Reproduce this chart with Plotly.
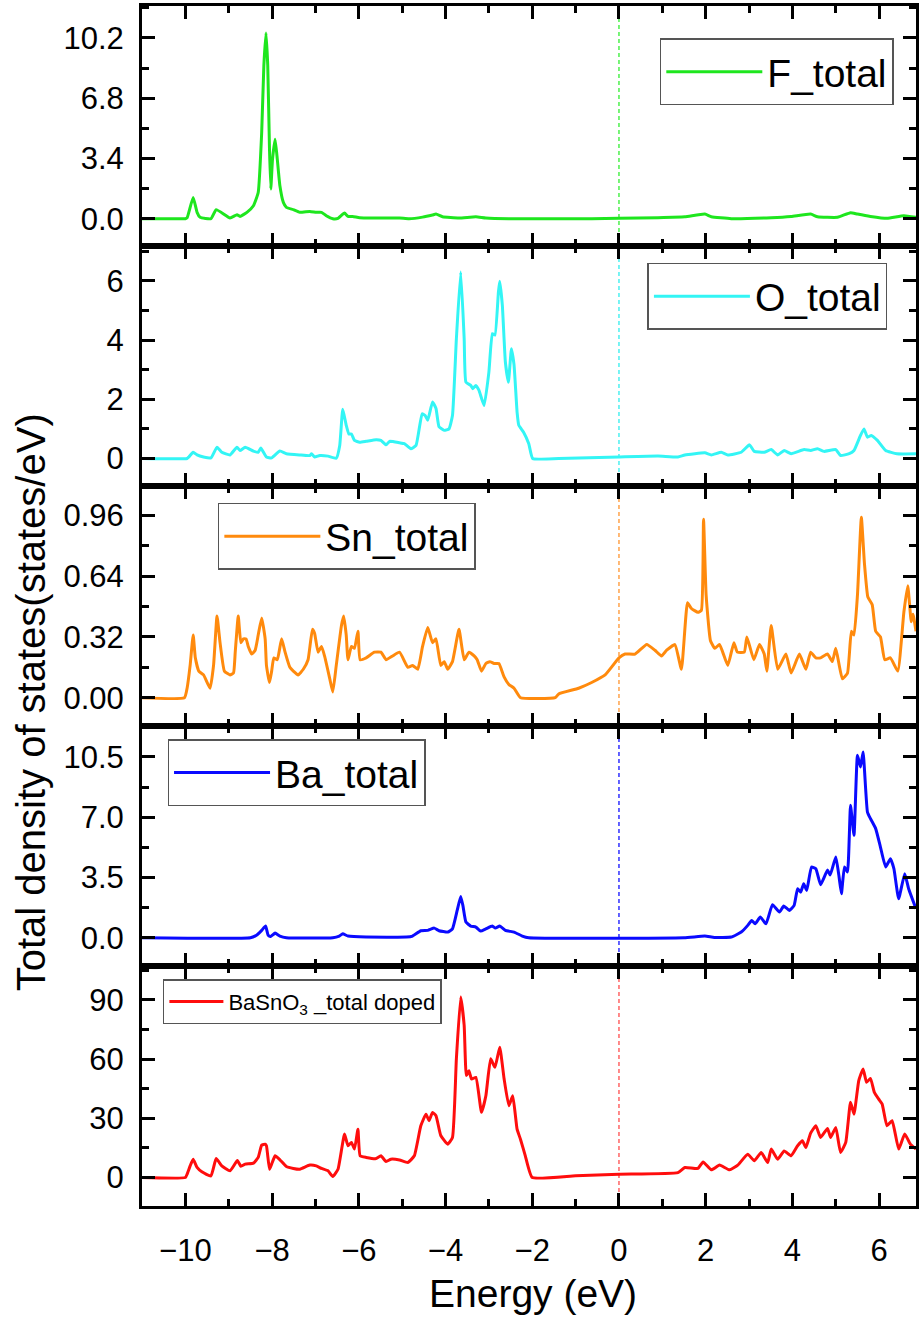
import plotly.graph_objects as go
from plotly.subplots import make_subplots

# ---- projected / total density of states (states/eV) vs energy (eV) ----
f_energy = [-11.0, -10.69, -10.0, -9.96, -9.82, -9.73, -9.66, -9.41, -9.29, -8.97,
            -8.81, -8.74, -8.58, -8.43, -8.32, -8.24, -8.19, -8.14, -8.10, -8.06,
            -8.03, -7.99, -7.93, -7.88, -7.82, -7.74, -7.67, -7.51, -7.36, -7.13,
            -6.98, -6.86, -6.75, -6.60, -6.48, -6.33, -6.25, -6.14, -5.98, -5.45,
            -5.06, -4.84, -4.53, -4.30, -4.22, -4.07, -3.69, -3.30, -3.07, -2.54,
            -2.16, -0.63, 0.0, 0.90, 1.52, 1.98, 2.13, 2.59, 3.51, 3.97,
            4.42, 4.58, 5.04, 5.34, 5.50, 5.80, 6.18, 6.57, 6.85]
f_dos = [0, 0, 0, 0.05, 1.20, 0.36, 0.08, 0.0, 0.51, 0.04,
         0.23, 0.13, 0.36, 0.73, 1.48, 4.86, 8.63, 10.48, 8.63, 3.94,
         1.67, 3.36, 4.48, 3.36, 1.86, 0.92, 0.64, 0.51, 0.36, 0.41,
         0.36, 0.36, 0.17, 0.0, 0.02, 0.32, 0.13, 0.13, 0.06, 0.04,
         0.04, 0.0, 0.09, 0.21, 0.26, 0.11, 0.04, 0.11, 0.04, 0.0,
         0.0, 0.0, 0.02, 0.06, 0.11, 0.26, 0.11, 0.0, 0.06, 0.13,
         0.26, 0.11, 0.08, 0.34, 0.26, 0.13, 0.02, 0.17, 0.08]

o_energy = [-11.0, -9.96, -9.92, -9.82, -9.73, -9.58, -9.41, -9.27, -9.16, -8.97,
            -8.81, -8.74, -8.62, -8.43, -8.32, -8.26, -8.13, -8.01, -7.82, -7.67,
            -7.36, -7.13, -7.09, -7.02, -6.90, -6.71, -6.52, -6.44, -6.37, -6.29,
            -6.23, -6.17, -6.10, -5.98, -5.83, -5.60, -5.49, -5.37, -5.29, -5.06,
            -4.95, -4.80, -4.68, -4.54, -4.47, -4.41, -4.30, -4.22, -4.15, -4.03,
            -3.92, -3.84, -3.75, -3.65, -3.57, -3.53, -3.42, -3.37, -3.30, -3.23,
            -3.11, -3.00, -2.92, -2.86, -2.78, -2.75, -2.69, -2.62, -2.55, -2.48,
            -2.42, -2.35, -2.31, -2.20, -2.08, -1.99, -1.39, 0.0, 0.90, 1.36,
            1.52, 1.98, 2.13, 2.36, 2.51, 2.82, 3.01, 3.12, 3.35, 3.51,
            3.66, 3.81, 3.97, 4.27, 4.42, 4.58, 4.73, 5.00, 5.11, 5.31,
            5.42, 5.57, 5.65, 5.73, 5.82, 5.96, 6.15, 6.41, 6.85]
o_dos = [0, 0, 0.05, 0.21, 0.12, 0.05, 0.02, 0.38, 0.21, 0.12,
         0.38, 0.27, 0.38, 0.25, 0.21, 0.35, 0.05, 0.02, 0.25, 0.16,
         0.12, 0.10, 0.16, 0.05, 0.10, 0.08, 0.01, 0.44, 1.66, 1.12,
         0.83, 0.83, 0.61, 0.55, 0.58, 0.63, 0.61, 0.46, 0.58, 0.53,
         0.50, 0.33, 0.44, 1.51, 1.45, 1.29, 1.91, 1.69, 1.07, 0.95,
         1.00, 1.45, 4.04, 6.30, 4.05, 2.58, 2.47, 2.36, 2.47, 2.31,
         1.79, 2.92, 4.22, 4.17, 5.63, 5.99, 5.18, 3.26, 2.58, 3.71,
         3.16, 1.57, 1.12, 0.89, 0.50, 0.0, 0.0, 0.05, 0.08, 0.05,
         0.12, 0.19, 0.12, 0.21, 0.12, 0.21, 0.46, 0.24, 0.21, 0.30,
         0.12, 0.27, 0.16, 0.30, 0.27, 0.33, 0.24, 0.30, 0.10, 0.16,
         0.27, 0.78, 1.00, 0.72, 0.78, 0.61, 0.27, 0.16, 0.16]

sn_energy = [-11.0, -10.02, -9.96, -9.89, -9.82, -9.77, -9.69, -9.58, -9.43, -9.35,
             -9.27, -9.20, -9.10, -8.97, -8.89, -8.85, -8.78, -8.72, -8.66, -8.60,
             -8.55, -8.47, -8.39, -8.32, -8.24, -8.16, -8.13, -8.06, -8.01, -7.96,
             -7.88, -7.78, -7.70, -7.59, -7.51, -7.40, -7.28, -7.17, -7.07, -7.02,
             -6.94, -6.86, -6.79, -6.67, -6.60, -6.52, -6.40, -6.35, -6.29, -6.25,
             -6.17, -6.10, -6.02, -5.97, -5.83, -5.64, -5.49, -5.37, -5.22, -5.06,
             -4.87, -4.76, -4.64, -4.53, -4.41, -4.30, -4.22, -4.11, -4.03, -3.95,
             -3.84, -3.69, -3.57, -3.46, -3.34, -3.27, -3.17, -3.07, -2.98, -2.88,
             -2.77, -2.65, -2.54, -2.42, -2.27, -1.47, -1.39, -0.93, -0.63, -0.32,
             0.0, 0.14, 0.37, 0.64, 0.83, 0.98, 1.10, 1.29, 1.44, 1.58,
             1.67, 1.82, 1.90, 1.95, 2.01, 2.11, 2.21, 2.32, 2.51, 2.65,
             2.73, 2.89, 2.95, 3.11, 3.24, 3.35, 3.41, 3.51, 3.66, 3.85,
             3.97, 4.16, 4.31, 4.42, 4.54, 4.65, 4.81, 4.92, 5.00, 5.15,
             5.27, 5.36, 5.42, 5.50, 5.59, 5.66, 5.74, 5.84, 5.92, 6.03,
             6.13, 6.26, 6.43, 6.57, 6.66, 6.74, 6.78, 6.85]
sn_dos = [0, 0, 0.05, 0.17, 0.33, 0.21, 0.14, 0.12, 0.05, 0.17,
          0.43, 0.29, 0.14, 0.12, 0.13, 0.24, 0.43, 0.29, 0.31, 0.31,
          0.27, 0.23, 0.25, 0.33, 0.42, 0.31, 0.17, 0.08, 0.14, 0.21,
          0.20, 0.31, 0.24, 0.16, 0.14, 0.12, 0.15, 0.20, 0.36, 0.34,
          0.24, 0.27, 0.22, 0.10, 0.03, 0.17, 0.38, 0.43, 0.33, 0.20,
          0.27, 0.26, 0.35, 0.20, 0.21, 0.24, 0.24, 0.20, 0.22, 0.24,
          0.16, 0.17, 0.15, 0.27, 0.37, 0.29, 0.31, 0.17, 0.19, 0.15,
          0.19, 0.36, 0.20, 0.24, 0.22, 0.20, 0.14, 0.18, 0.19, 0.18,
          0.18, 0.11, 0.07, 0.05, 0.0, 0.0, 0.02, 0.05, 0.08, 0.12,
          0.21, 0.23, 0.23, 0.28, 0.25, 0.22, 0.25, 0.28, 0.15, 0.50,
          0.47, 0.45, 0.46, 0.94, 0.54, 0.30, 0.26, 0.28, 0.17, 0.29,
          0.24, 0.24, 0.32, 0.20, 0.28, 0.23, 0.14, 0.38, 0.15, 0.23,
          0.13, 0.23, 0.15, 0.24, 0.21, 0.21, 0.23, 0.19, 0.26, 0.10,
          0.13, 0.35, 0.33, 0.54, 0.95, 0.71, 0.53, 0.49, 0.35, 0.32,
          0.20, 0.21, 0.14, 0.45, 0.59, 0.40, 0.44, 0.35]

ba_energy = [-11.0, -8.50, -8.36, -8.24, -8.15, -8.09, -8.03, -7.93, -7.82, -7.67,
             -6.60, -6.45, -6.37, -6.25, -5.83, -4.90, -4.76, -4.57, -4.41, -4.26,
             -4.15, -3.95, -3.84, -3.73, -3.65, -3.60, -3.53, -3.42, -3.30, -3.19,
             -3.07, -2.92, -2.85, -2.75, -2.62, -2.42, -2.23, -2.08, 1.50, 1.98,
             2.20, 2.59, 2.82, 2.97, 3.06, 3.14, 3.26, 3.39, 3.54, 3.70,
             3.80, 3.93, 4.04, 4.12, 4.19, 4.26, 4.33, 4.44, 4.54, 4.65,
             4.81, 4.87, 5.00, 5.07, 5.13, 5.20, 5.27, 5.34, 5.42, 5.50,
             5.57, 5.63, 5.73, 5.80, 5.92, 6.03, 6.15, 6.26, 6.34, 6.45,
             6.59, 6.68, 6.85]
ba_dos = [0, 0, 0.14, 0.43, 0.68, 0.14, 0.08, 0.27, 0.10, 0.0,
          0.0, 0.10, 0.23, 0.10, 0.04, 0.04, 0.10, 0.41, 0.43, 0.56,
          0.41, 0.33, 0.52, 1.60, 2.40, 1.88, 0.91, 0.68, 0.62, 0.39,
          0.52, 0.68, 0.56, 0.68, 0.43, 0.33, 0.10, 0.0, 0.0, 0.10,
          0.02, 0.04, 0.33, 0.72, 1.01, 0.81, 1.20, 0.81, 1.92, 1.49,
          1.84, 1.59, 1.88, 2.85, 2.65, 3.14, 2.75, 4.11, 4.01, 3.08,
          3.93, 3.64, 4.69, 3.64, 2.56, 4.11, 3.82, 7.69, 5.95, 10.60,
          9.92, 10.79, 7.30, 6.92, 6.34, 5.27, 4.11, 4.59, 4.01, 2.27,
          3.72, 2.85, 1.69]

tot_energy = [-11.0, -10.0, -9.96, -9.89, -9.82, -9.73, -9.62, -9.41, -9.29, -9.16,
              -8.97, -8.80, -8.72, -8.62, -8.43, -8.32, -8.24, -8.16, -8.13, -8.06,
              -8.01, -7.93, -7.82, -7.67, -7.51, -7.36, -7.13, -6.98, -6.86, -6.71,
              -6.60, -6.48, -6.33, -6.25, -6.17, -6.10, -6.02, -5.97, -5.83, -5.60,
              -5.49, -5.37, -5.26, -5.06, -4.87, -4.72, -4.57, -4.45, -4.38, -4.30,
              -4.22, -4.11, -3.95, -3.84, -3.75, -3.65, -3.57, -3.52, -3.46, -3.40,
              -3.30, -3.17, -3.07, -2.96, -2.86, -2.75, -2.65, -2.54, -2.45, -2.35,
              -2.27, -2.16, -2.00, -1.00, 0.0, 1.36, 1.52, 1.82, 1.94, 2.13,
              2.32, 2.55, 2.74, 2.97, 3.12, 3.28, 3.43, 3.51, 3.66, 3.81,
              3.97, 4.12, 4.23, 4.31, 4.42, 4.54, 4.65, 4.81, 4.88, 5.00,
              5.11, 5.23, 5.34, 5.42, 5.53, 5.63, 5.71, 5.80, 5.89, 5.99,
              6.07, 6.18, 6.30, 6.45, 6.59, 6.72, 6.85]
tot_dos = [0, 0, 1.7, 5.9, 9.3, 5.1, 2.9, 0.8, 9.6, 5.9,
           3.4, 8.6, 5.7, 6.8, 7.3, 10.2, 16.4, 16.9, 16.1, 4.2,
           6.8, 11.0, 9.0, 5.6, 4.6, 4.2, 6.3, 5.9, 4.6, 3.4,
           0.5, 4.2, 22.0, 16.1, 17.8, 14.4, 24.5, 11.0, 10.2, 9.6,
           11.0, 8.1, 9.3, 8.9, 7.6, 11.0, 26.2, 32.1, 28.8, 33.0,
           31.3, 21.3, 16.9, 20.3, 60.1, 91.4, 77.0, 51.6, 54.1, 49.9,
           50.7, 33.0, 41.4, 60.1, 55.8, 66.0, 50.1, 36.4, 41.4, 24.5,
           19.3, 11.0, 0.0, 0.9, 1.7, 2.5, 5.1, 4.6, 7.9, 3.9,
           6.3, 3.9, 6.3, 11.8, 8.5, 12.7, 7.6, 14.4, 9.3, 13.5,
           11.0, 16.1, 18.6, 15.2, 22.5, 26.2, 20.3, 24.9, 20.3, 25.4,
           12.7, 17.8, 38.1, 32.1, 49.1, 55.0, 48.2, 50.2, 43.1, 39.7,
           37.2, 26.2, 28.8, 14.4, 22.0, 16.9, 14.4]

names = ["F_total", "O_total", "Sn_total", "Ba_total", "BaSnO<sub>3</sub> _total doped"]
energies = [f_energy, o_energy, sn_energy, ba_energy, tot_energy]
values = [f_dos, o_dos, sn_dos, ba_dos, tot_dos]
line_colors = ["#1ee61e", "#33f5f5", "#ff8a0d", "#0a0aff", "#ff0d0d"]
fermi_colors = ["#4cf04c", "#4cf0f0", "#ffa24a", "#3030ff", "#ff6464"]

y_ranges = [[-1.54, 12.0], [-0.93, 7.18], [-0.149, 1.115], [-1.64, 12.3], [-14.4, 107.1]]
y_ticks = [[0, 3.4, 6.8, 10.2], [0, 2, 4, 6], [0, 0.32, 0.64, 0.96], [0, 3.5, 7.0, 10.5], [0, 30, 60, 90]]
y_minor = [1.7, 1.0, 0.16, 1.75, 15]
y_formats = [".1f", "d", ".2f", ".1f", "d"]

legend_pos = [(0.669, 0.973), (0.653, 0.786), (0.098, 0.586), (0.033, 0.389), (0.027, 0.189)]
legend_fonts = [39, 39, 39, 39, 22]
legend_itemwidths = [96, 96, 96, 96, 54]

FONT = "Liberation Sans, Arial, sans-serif"

fig = make_subplots(rows=5, cols=1, shared_xaxes=True, vertical_spacing=0)

for i in range(5):
    leg = "legend" if i == 0 else f"legend{i + 1}"
    fig.add_trace(
        go.Scatter(x=energies[i], y=values[i], mode="lines", name=names[i],
                   line=dict(color=line_colors[i], width=3, shape="spline", smoothing=0.4),
                   legend=leg, showlegend=True),
        row=i + 1, col=1)
    # Fermi level marker
    fig.add_shape(type="line", x0=0, x1=0, y0=0, y1=1,
                  xref=f"x{i + 1}" if i else "x", yref=(f"y{i + 1} domain" if i else "y domain"),
                  line=dict(color=fermi_colors[i], width=1.5, dash="4px,3px"), layer="below")

axis_common = dict(
    showline=True, linecolor="black", linewidth=3, mirror="allticks",
    ticks="inside", ticklen=13, tickwidth=2.5, tickcolor="black",
    showgrid=False, zeroline=False,
    tickfont=dict(family=FONT, size=31, color="black"),
)

for i in range(5):
    fig.update_xaxes(
        range=[-11.0, 6.85], tick0=0, dtick=2,
        minor=dict(dtick=1, tick0=0, ticks="inside", ticklen=7, tickwidth=2.5, tickcolor="black"),
        showticklabels=(i == 4), ticklabelstandoff=15,
        **axis_common, row=i + 1, col=1)
    fig.update_yaxes(
        range=y_ranges[i], tickvals=y_ticks[i], tickformat=y_formats[i],
        minor=dict(dtick=y_minor[i], tick0=0, ticks="inside", ticklen=7, tickwidth=2.5, tickcolor="black"),
        ticklabelstandoff=9,
        **axis_common, row=i + 1, col=1)

layout_legends = {}
for i in range(5):
    key = "legend" if i == 0 else f"legend{i + 1}"
    layout_legends[key] = dict(
        x=legend_pos[i][0], y=legend_pos[i][1], xanchor="left", yanchor="top",
        bgcolor="white", bordercolor="#555555", borderwidth=1.5,
        font=dict(family=FONT, size=legend_fonts[i], color="black"),
        itemwidth=legend_itemwidths[i],
    )

fig.update_layout(
    width=919, height=1318,
    margin=dict(l=142, r=0, t=6, b=112),
    paper_bgcolor="white", plot_bgcolor="white",
    font=dict(family=FONT, color="black"),
    **layout_legends,
    annotations=[
        dict(text="Energy (eV)", xref="paper", yref="paper", x=0.505, y=-0.073,
             xanchor="center", yanchor="middle", showarrow=False,
             font=dict(family=FONT, size=39, color="black")),
        dict(text="Total density of states(states/eV)", xref="paper", yref="paper",
             x=-0.143, y=0.42, xanchor="center", yanchor="middle", textangle=-90,
             showarrow=False, font=dict(family=FONT, size=40, color="black")),
    ],
)

fig.write_html("out.html")
